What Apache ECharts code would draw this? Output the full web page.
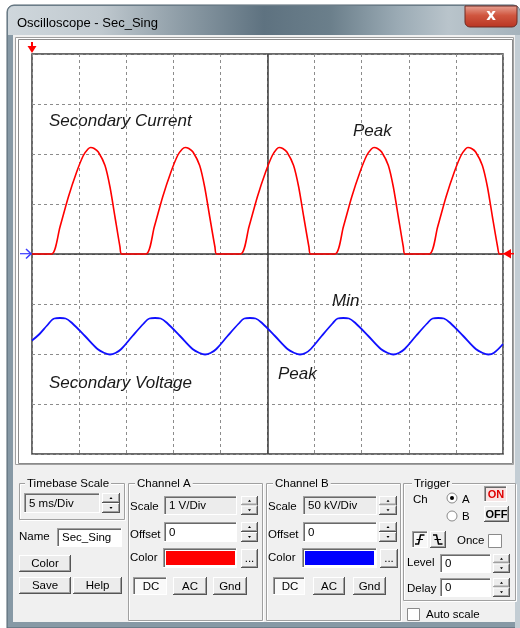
<!DOCTYPE html>
<html><head><meta charset="utf-8">
<script src="https://cdn.jsdelivr.net/npm/echarts@6/dist/echarts.min.js"></script>
<style>html,body{margin:0;padding:0;background:#fff}#c{width:520px;height:628px}</style>
</head><body><div id="c"></div>
<script>
// ---- data (time in ms, amplitude in divisions) ----
const xMin = 0, xMax = 50, xInterval = 5;      // 5 ms/Div, 10 divisions
const yMin = -4, yMax = 4, yInterval = 1;      // 8 vertical divisions

const currentTime = [0,
  2.09, 2.97, 3.86, 4.74, 5.45, 5.95, 6.23, 6.60, 7.04, 7.75, 8.28, 8.81, 9.34, 9.52,
  12.10, 12.98, 13.87, 14.75, 15.46, 15.96, 16.27, 16.65, 17.09, 17.80, 18.33, 18.87, 19.42, 19.60,
  22.15, 23.03, 23.92, 24.80, 25.51, 25.98, 26.24, 26.62, 27.06, 27.77, 28.31, 28.85, 29.40, 29.58,
  32.17, 33.05, 33.94, 34.82, 35.53, 36.03, 36.31, 36.68, 37.12, 37.83, 38.36, 38.89, 39.42, 39.60,
  42.18, 43.06, 43.95, 44.83, 45.54, 46.02, 46.27, 46.66, 47.10, 47.81, 48.35, 48.88, 49.43, 49.61,
  50];
const currentValues = [0,
  0, 0.54, 1.14, 1.64, 1.97, 2.10, 2.13, 2.11, 2.04, 1.77, 1.34, 0.74, 0.14, 0,
  0, 0.54, 1.14, 1.64, 1.97, 2.10, 2.13, 2.11, 2.04, 1.77, 1.34, 0.74, 0.14, 0,
  0, 0.54, 1.14, 1.64, 1.97, 2.10, 2.13, 2.11, 2.04, 1.77, 1.34, 0.74, 0.14, 0,
  0, 0.54, 1.14, 1.64, 1.97, 2.10, 2.13, 2.11, 2.04, 1.77, 1.34, 0.74, 0.14, 0,
  0, 0.54, 1.14, 1.64, 1.97, 2.10, 2.13, 2.11, 2.04, 1.77, 1.34, 0.74, 0.14, 0,
  0];

const voltageTime = [0, 0.8, 1.6,
  2.37, 2.97, 3.57, 4.30, 5.62, 6.95, 7.70, 8.28, 8.86, 9.48, 10.67, 11.86,
  12.46, 13.06, 13.66, 14.39, 15.71, 17.04, 17.79, 18.37, 18.95, 19.57, 20.76, 21.95,
  22.54, 23.14, 23.74, 24.47, 25.79, 27.12, 27.87, 28.45, 29.03, 29.60, 30.75, 31.90,
  32.45, 33.05, 33.65, 34.38, 35.70, 37.03, 37.78, 38.36, 38.94, 39.56, 40.75, 41.94,
  42.53, 43.13, 43.73, 44.46, 45.78, 47.11, 47.86, 48.44, 49.02, 50];
const voltageValues = [-1.73, -1.60, -1.43,
  -1.29, -1.28, -1.29, -1.39, -1.64, -1.90, -1.98, -2.01, -1.98, -1.90, -1.64, -1.39,
  -1.29, -1.28, -1.29, -1.39, -1.64, -1.90, -1.98, -2.01, -1.98, -1.90, -1.64, -1.39,
  -1.29, -1.28, -1.29, -1.39, -1.64, -1.90, -1.98, -2.01, -1.98, -1.90, -1.64, -1.39,
  -1.29, -1.28, -1.29, -1.39, -1.64, -1.90, -1.98, -2.01, -1.98, -1.90, -1.64, -1.39,
  -1.29, -1.28, -1.29, -1.39, -1.64, -1.90, -1.98, -2.01, -1.98, -1.80];

const centerTime = 25, centerLevel = 0;

// ---- chrome drawing helpers ----
const PF = '11.5px "Liberation Sans", Arial, sans-serif';
const G = [];
function R(x,y,w,h,fill,stroke,lw,z,r){G.push({type:'rect',z:z||1,silent:true,shape:{x:x,y:y,width:w,height:h,r:r||0},style:{fill:fill||'none',stroke:stroke||'none',lineWidth:lw||1}});}
function L(x1,y1,x2,y2,stroke,lw,z){G.push({type:'line',z:z||1,silent:true,shape:{x1:x1,y1:y1,x2:x2,y2:y2},style:{stroke:stroke,lineWidth:lw||1}});}
function T(x,y,s,font,fill,align,z,extra){const st={text:s,font:font||PF,fill:fill||'#000',textAlign:align||'left',textVerticalAlign:'middle'};if(extra)Object.assign(st,extra);G.push({type:'text',z:z||2,silent:true,x:x,y:y,style:st});}
function P(points,fill,stroke,lw,z){G.push({type:'polygon',z:z||1,silent:true,shape:{points:points},style:{fill:fill||'none',stroke:stroke||'none',lineWidth:lw||1}});}
function PL(points,stroke,lw,z){G.push({type:'polyline',z:z||1,silent:true,shape:{points:points},style:{fill:'none',stroke:stroke,lineWidth:lw||1}});}

function raised(x,y,w,h,face){
  R(x,y,w,h,face||'#ececec');
  L(x,y+0.5,x+w,y+0.5,'#ffffff'); L(x+0.5,y,x+0.5,y+h,'#ffffff');
  L(x,y+h-0.5,x+w,y+h-0.5,'#555555'); L(x+w-0.5,y,x+w-0.5,y+h,'#555555');
  L(x+1,y+h-1.5,x+w-1,y+h-1.5,'#a0a0a0'); L(x+w-1.5,y+1,x+w-1.5,y+h-1,'#a0a0a0');
}
function sunken(x,y,w,h,face){
  R(x,y,w,h,face||'#f8f8f8');
  L(x,y+0.5,x+w,y+0.5,'#a0a0a0'); L(x+0.5,y,x+0.5,y+h,'#a0a0a0');
  L(x+1,y+1.5,x+w-1,y+1.5,'#696969'); L(x+1.5,y+1,x+1.5,y+h-1,'#696969');
  L(x,y+h-0.5,x+w,y+h-0.5,'#ffffff'); L(x+w-0.5,y,x+w-0.5,y+h,'#ffffff');
}
function btn(x,y,w,h,label,pressed,color){
  if(pressed) sunken(x,y,w,h,'#f9f9f9'); else raised(x,y,w,h);
  if(label) T(x+w/2+(pressed?1:0),y+h/2+0.5,label,PF,color||'#000','center');
}
function field(x,y,w,h,fill,text){
  sunken(x,y,w,h,fill);
  if(text!=null) T(x+5,y+h/2+0.5,text,PF,'#000','left');
}
function spinner(x,y,w,h){
  const hh=h/2;
  raised(x,y,w,hh); raised(x,y+hh,w,hh);
  const cx=x+w/2;
  P([[cx-1.5,y+hh/2+1],[cx+1.5,y+hh/2+1],[cx,y+hh/2-1]],'#000');
  P([[cx-1.5,y+hh+hh/2-1],[cx+1.5,y+hh+hh/2-1],[cx,y+hh+hh/2+1]],'#000');
}
function group(x,y,w,h,label,lx){
  R(x+1.5,y+1.5,w,h,'none','#ffffff');
  R(x+0.5,y+0.5,w,h,'none','#a0a0a0');
  T(lx,y+0.5,label,PF,'#000','left',3,{backgroundColor:'#f0f0f0',padding:[0,2,0,2]});
}
function check(x,y,s){ R(x+0.5,y+0.5,s,s,'#ffffff','#8a8a8a'); }

// ---- window frame ----
R(7,5,513,623,'#8799a5','#4f606c',1,1,[7,7,0,0]);
G.push({type:'rect',z:1,silent:true,shape:{x:8,y:6,width:512,height:29,r:[6,6,0,0]},
  style:{fill:{type:'linear',x:0,y:0,x2:1,y2:0,colorStops:[
    {offset:0,color:'#cfd7dc'},{offset:0.18,color:'#c0c9cf'},{offset:0.34,color:'#8d9ca6'},
    {offset:0.5,color:'#5e7280'},{offset:0.63,color:'#6b7f8b'},{offset:0.76,color:'#9aaab4'},
    {offset:0.86,color:'#b9c4cb'},{offset:1,color:'#a5b3bc'}]}}});
T(17,23,'Oscilloscope - Sec_Sing','13px "Liberation Sans", Arial, sans-serif','#000','left',3);
// close button
G.push({type:'rect',z:2,silent:true,shape:{x:465,y:6,width:52,height:21,r:[0,0,5,5]},
  style:{fill:{type:'linear',x:0,y:0,x2:0,y2:1,colorStops:[{offset:0,color:'#e8a496'},{offset:0.45,color:'#d0563f'},{offset:1,color:'#b83422'}]},stroke:'#6e2a22',lineWidth:1}});
T(491,16,'x','bold 15px "DejaVu Sans", sans-serif','#ffffff','center',3);
// right frame (lighter)
R(515,35,5,593,'#c3cdd4');
// client area
R(13,35,502,587,'#f0f0f0');
// screen
R(15.5,37.5,498,427,'#ffffff','#a0a0a0');
R(18.5,39.5,494,424,'none','#8a8a8a');

// ---- controls ----
group(19,483,105,36,'Timebase Scale',25);
field(24,493,76,20,'#ececec','5 ms/Div');
spinner(102,493,18,20);
T(19,537,'Name');
field(57,528,65,19,'#ffffff','Sec_Sing');
btn(19,555,52,17,'Color');
btn(19,577,52,17,'Save');
btn(73,577,49,17,'Help');

group(128,483,134,137,'Channel A',135);
T(130,507,'Scale'); field(164,496,73,19,'#ececec','1 V/Div'); spinner(241,496,17,19);
T(130,535,'Offset'); field(164,522,73,20,'#ffffff','0'); spinner(241,522,17,20);
T(130,558,'Color'); sunken(163,548,74,20,'#ffffff'); R(166,551,69,14,'#ff0000');
btn(241,549,17,19,'...');
btn(133,577,34,18,'DC',true); btn(173,577,34,18,'AC'); btn(213,577,34,18,'Gnd');

group(266,483,134,137,'Channel B',273);
T(268,507,'Scale'); field(303,496,74,19,'#ececec','50 kV/Div'); spinner(379,496,18,19);
T(268,535,'Offset'); field(303,522,74,20,'#ffffff','0'); spinner(379,522,18,20);
T(268,558,'Color'); sunken(302,548,75,20,'#ffffff'); R(305,551,69,14,'#0000ff');
btn(380,549,18,19,'...');
btn(273,577,32,18,'DC',true); btn(313,577,32,18,'AC'); btn(353,577,33,18,'Gnd');

group(403,483,112,117,'Trigger',412);
T(413,500,'Ch');
G.push({type:'circle',z:2,silent:true,shape:{cx:452,cy:498,r:5},style:{fill:'#ffffff',stroke:'#8a8a8a'}});
G.push({type:'circle',z:3,silent:true,shape:{cx:452,cy:498,r:2},style:{fill:'#000000'}});
T(462,500,'A');
G.push({type:'circle',z:2,silent:true,shape:{cx:452,cy:516,r:5},style:{fill:'#ffffff',stroke:'#8a8a8a'}});
T(462,517,'B');
sunken(484,486,23,16,'#f6e4e4'); T(496,494.5,'ON','bold 11px "Liberation Sans", Arial, sans-serif','#e00000','center',3);
raised(484,506,25,16); T(496.5,514.5,'OFF','bold 11px "Liberation Sans", Arial, sans-serif','#000','center',3);
sunken(412,531,16,17,'#f7f7f7'); raised(430,531,16,17);
PL([[415,544],[418.5,544],[420.5,535],[424.5,535]],'#000',1.5,3); L(416.5,539.5,423,539.5,'#000',1,3);
PL([[433,535],[436.5,535],[438.5,544],[442.5,544]],'#000',1.5,3); L(434.5,539.5,441,539.5,'#000',1,3);
T(457,541,'Once'); check(488,534,13);
T(407,563,'Level'); field(440,554,51,19,'#ffffff','0'); spinner(493,554,17,19);
T(407,589,'Delay'); field(440,578,51,19,'#ffffff','0'); spinner(493,578,17,19);
check(407,608,12); T(426,615,'Auto scale');

// ---- screen annotations & channel markers ----
const AF = 'italic 17px "Liberation Sans", Arial, sans-serif';
T(49,121.5,'Secondary Current',AF,'#1a1a1a','left',20);
T(353,131,'Peak',AF,'#1a1a1a','left',20);
T(332,301,'Min',AF,'#1a1a1a','left',20);
T(49,383.5,'Secondary Voltage',AF,'#1a1a1a','left',20);
T(278,374,'Peak',AF,'#1a1a1a','left',20);
// trigger marker (top), channel A marker (right), channel B marker (left)
L(32,42,32,49,'#ff0000',2,20); P([[27.5,46],[36.5,46],[32,53]],'#ff0000',null,1,20);
L(20,253.7,31,253.7,'#3a3aff',1.2,20); PL([[26,249],[31,253.7],[26,258.5]],'#3a3aff',1.5,20);
L(503,253.7,514,253.7,'#ff0000',1.5,20); P([[503,253.7],[511,249],[511,258.5]],'#ff0000',null,1,20);

const chart = echarts.init(document.getElementById('c'), null, {renderer:'canvas', width:520, height:628});
chart.setOption({
  backgroundColor:'#ffffff',
  animation:false,
  graphic:{elements:G},
  grid:{left:32, top:54, width:471, height:400, show:true, z:5, borderColor:'#3a3a3a', borderWidth:1.5, backgroundColor:'transparent', containLabel:false, outerBoundsMode:'none'},
  xAxis:{type:'value', min:xMin, max:xMax, interval:xInterval, z:5,
    axisLine:{show:false}, axisTick:{show:false}, axisLabel:{show:false},
    splitLine:{show:true, lineStyle:{color:'#8c8c8c', type:[3,3], width:1}}},
  yAxis:{type:'value', min:yMin, max:yMax, interval:yInterval, z:5,
    axisLine:{show:false}, axisTick:{show:false}, axisLabel:{show:false},
    splitLine:{show:true, lineStyle:{color:'#8c8c8c', type:[3,3], width:1}}},
  series:[
    {type:'line', z:6, data:[], silent:true,
      markLine:{silent:true, symbol:'none', label:{show:false}, lineStyle:{color:'#3a3a3a', type:'solid', width:1.5},
        data:[{xAxis:centerTime},{yAxis:centerLevel}]}},
    {name:'Channel B', type:'line', z:7, silent:true, showSymbol:false, smooth:0.35,
      lineStyle:{color:'#1010ff', width:1.8}, itemStyle:{color:'#1010ff'},
      data:voltageTime.map((t,i)=>[t,voltageValues[i]])},
    {name:'Channel A', type:'line', z:8, silent:true, showSymbol:false, smooth:0.25,
      lineStyle:{color:'#ff0000', width:1.6}, itemStyle:{color:'#ff0000'},
      data:currentTime.map((t,i)=>[t,currentValues[i]])}
  ]
});
</script></body></html>
